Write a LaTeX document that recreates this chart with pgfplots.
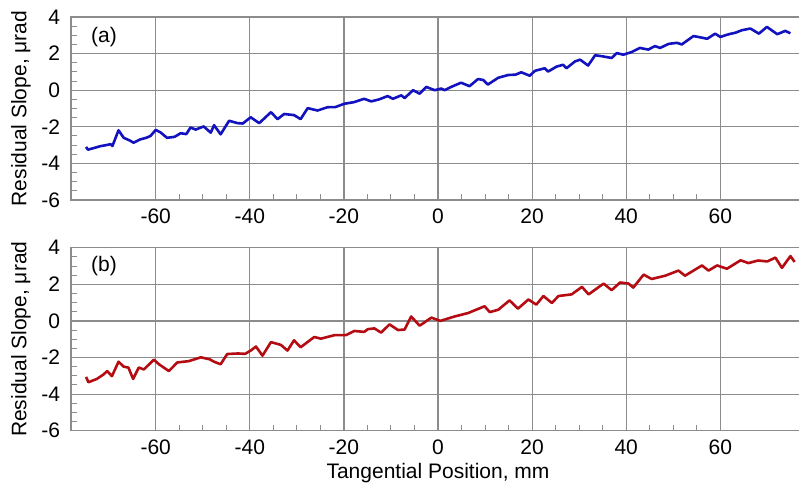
\documentclass[border=0pt]{standalone}
\usepackage{fontspec}
\setmainfont{Liberation Sans}
\usepackage{pgfplots}
\pgfplotsset{compat=1.18}
\definecolor{gridgray}{RGB}{140,140,140}
\definecolor{lineblue}{RGB}{18,18,190}
\definecolor{linered}{RGB}{180,12,18}
\pgfplotsset{panel/.style={
  scale only axis, width=367pt, height=91.5pt,
  xmin=-78, xmax=78, ymin=-6, ymax=4,
  xtick={-60,-40,...,60}, ytick={-6,-4,...,4},
  minor x tick num=3, minor y tick num=3,
  grid=major, major grid style={gridgray, line width=0.6pt},
  axis line style={gridgray, line width=0.6pt},
  tick style={gridgray, line width=0.5pt},
  minor tick length=3pt, major tick length=0pt,
  tick pos=left, tick align=inside,
  font=\fontsize{10.5}{12}\selectfont,
  /pgf/number format/assume math mode=true,
  yticklabel style={xshift=-2pt},
  xticklabel style={yshift=-1pt},
  ylabel={Residual Slope, μrad},
  ylabel style={at={(axis description cs:0,0.5)}, anchor=center, yshift=25pt},
}}
\begin{document}
\begin{tikzpicture}
\begin{axis}[panel, at={(35.5pt,-8.5pt)}, anchor=north west]
\addplot[lineblue, line width=1.3pt, line join=round] coordinates {
(-74.8,-3.1) (-74.4,-3.25) (-73,-3.15) (-71.8,-3.06) (-70.5,-3.0) (-69.6,-2.95) (-69.2,-3.05) (-67.9,-2.19) (-66.8,-2.6) (-65.5,-2.75) (-64.7,-2.87) (-63.3,-2.69) (-62,-2.6) (-61.1,-2.5) (-60,-2.17) (-59,-2.3) (-57.6,-2.6) (-56,-2.55) (-54.7,-2.35) (-53.5,-2.4) (-52.6,-2.04) (-51.5,-2.15) (-49.8,-1.98) (-48.3,-2.32) (-47.6,-1.91) (-46.2,-2.41) (-44.4,-1.67) (-42.6,-1.8) (-41.5,-1.82) (-39.8,-1.48) (-38,-1.8) (-35.5,-1.2) (-34.1,-1.58) (-32.7,-1.3) (-30.6,-1.36) (-29.2,-1.58) (-27.7,-0.98) (-25.6,-1.11) (-23.5,-0.93) (-21.8,-0.92) (-19.9,-0.74) (-17.8,-0.65) (-15.7,-0.47) (-14.2,-0.61) (-12.5,-0.5) (-10.7,-0.32) (-9.6,-0.47) (-7.8,-0.28) (-7.1,-0.43) (-5.3,0) (-3.9,-0.19) (-2.5,0.18) (-0.7,0) (0.7,0.09) (1.4,0) (2.8,0.18) (4.9,0.41) (6.7,0.22) (8.5,0.61) (9.6,0.56) (10.6,0.31) (12.8,0.68) (14.9,0.83) (16.5,0.85) (17.7,0.98) (19.5,0.79) (20.6,1.06) (22.7,1.2) (23.4,1.02) (25.2,1.29) (26.6,1.39) (27.3,1.2) (29.1,1.57) (30.2,1.67) (31.9,1.35) (33.4,1.91) (35,1.85) (36.9,1.76) (38,2.03) (39.4,1.94) (41.2,2.09) (42.9,2.31) (44.7,2.22) (46.1,2.41) (47.2,2.31) (49,2.53) (50.8,2.59) (51.8,2.5) (54.3,2.96) (56.1,2.87) (57.2,2.81) (58.9,3.09) (60,2.91) (61.8,3.06) (63.2,3.14) (64.6,3.28) (66.4,3.37) (68.2,3.09) (69.9,3.46) (72.1,3.06) (73.8,3.24) (74.9,3.11)
};
\node[font=\fontsize{10.5}{12}\selectfont] at (axis cs:-71,2.9) {(a)};
\end{axis}
\begin{axis}[panel, at={(35.5pt,-123.85pt)}, anchor=north west,
  xlabel={Tangential Position, mm},
  xlabel style={at={(axis description cs:0.5,0)}, anchor=center, yshift=-21pt}]
\addplot[linered, line width=1.3pt, line join=round] coordinates {
(-74.8,-3.06) (-74.3,-3.35) (-72.5,-3.17) (-71.1,-2.93) (-70.3,-2.74) (-69.3,-3.02) (-67.9,-2.23) (-66.8,-2.5) (-65.8,-2.55) (-64.8,-3.17) (-63.6,-2.55) (-62.5,-2.65) (-60.4,-2.12) (-59.3,-2.37) (-57.2,-2.74) (-55.4,-2.27) (-53,-2.2) (-50.4,-1.99) (-48.5,-2.1) (-47.6,-2.23) (-46.2,-2.37) (-44.8,-1.81) (-42.5,-1.78) (-41,-1.8) (-39.8,-1.62) (-38.7,-1.4) (-37.3,-1.9) (-35.5,-1.16) (-33.4,-1.31) (-32,-1.62) (-30.6,-1.06) (-29.2,-1.44) (-26.3,-0.88) (-24.9,-0.97) (-22,-0.78) (-19.6,-0.78) (-17.8,-0.55) (-15.7,-0.6) (-14.9,-0.45) (-13.5,-0.41) (-12.1,-0.64) (-10.3,-0.19) (-8.5,-0.5) (-7.1,-0.47) (-5.7,0.24) (-3.9,-0.26) (-1.4,0.18) (0.5,0) (3.5,0.24) (6.4,0.43) (9.9,0.8) (11,0.48) (12.8,0.61) (15.2,1.12) (17,0.67) (19.2,1.17) (20.9,0.89) (22.4,1.36) (24.2,0.98) (25.6,1.36) (28.4,1.45) (30.6,1.86) (32,1.45) (35.2,2.04) (36.9,1.68) (38.7,2.1) (40.5,2.04) (41.5,1.82) (43.7,2.53) (45.4,2.29) (48.3,2.47) (51.1,2.75) (52.5,2.47) (56.1,3.03) (57.5,2.75) (59.3,3.03) (61.4,2.85) (64.3,3.31) (66,3.16) (68,3.3) (70,3.25) (71.7,3.46) (73.1,2.9) (74.9,3.54) (75.8,3.22)
};
\node[font=\fontsize{10.5}{12}\selectfont] at (axis cs:-71,3.0) {(b)};
\end{axis}
\pgfresetboundingbox
\path (0,0) rectangle (399.5pt,-244.5pt);
\end{tikzpicture}
\end{document}
